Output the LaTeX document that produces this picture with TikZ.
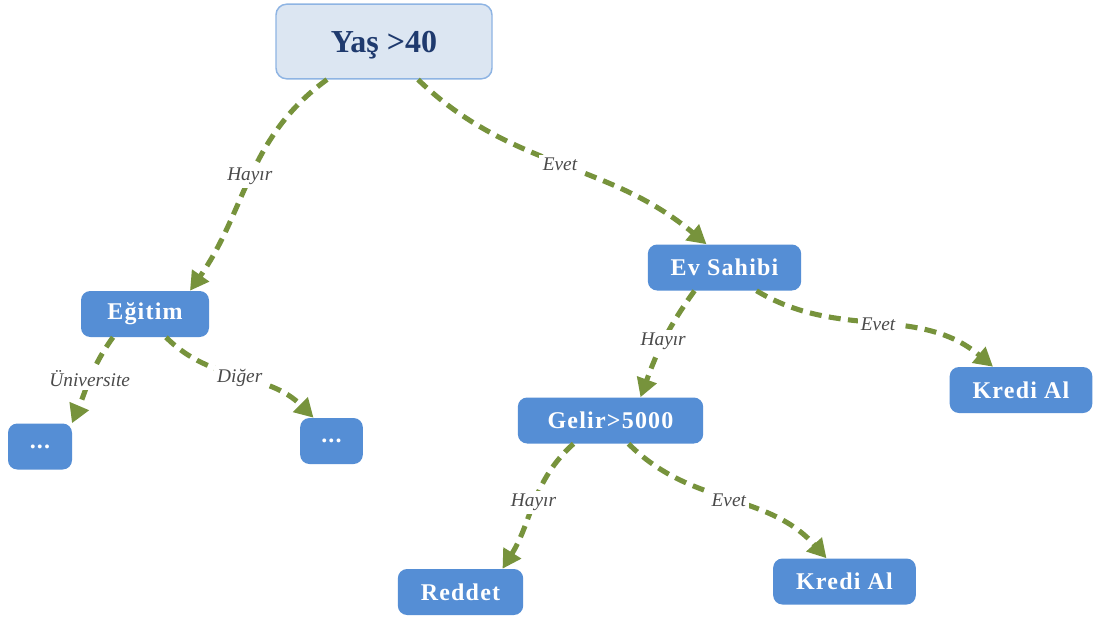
\documentclass[tikz,border=0pt]{standalone}
\usepackage{fontspec}
\setmainfont{Liberation Serif}
\usepackage{xcolor}
\usetikzlibrary{arrows.meta,calc}
\definecolor{DTBlue}{HTML}{558ED5}
\definecolor{DTRootFill}{HTML}{DCE6F2}
\definecolor{DTRootLine}{HTML}{8EB4E3}
\definecolor{DTRootText}{HTML}{1F3A6E}
\definecolor{DTGreen}{HTML}{77933C}
\definecolor{DTLabel}{HTML}{4A4A4A}
\tikzset{
  leaf/.style={fill=DTBlue,draw=none,rounded corners=7pt,minimum height=34.5pt,inner sep=0pt,
    text=white,font=\fontsize{18}{21}\selectfont\bfseries\addfontfeature{LetterSpace=5}},
  edge/.style={draw=DTGreen,line width=3.8pt,dash pattern=on 9pt off 5.5pt,
    -{Triangle[length=14pt,width=15pt]}},
  lbl/.style={fill=white,inner sep=2.5pt,text=DTLabel,font=\fontsize{14.5}{16}\selectfont\itshape}
}

\begin{document}
\begin{tikzpicture}[x=0.75pt,y=-0.75pt]
\path[use as bounding box] (0,0) rectangle (1095,621);
\fill[white] (0,0) rectangle (1095,621);
\node[fill=DTRootFill,draw=DTRootLine,line width=1.1pt,rounded corners=8pt,minimum width=162pt,minimum height=56pt,
  text depth=0pt,text=DTRootText,font=\fontsize{24}{28}\selectfont\bfseries] (root) at (384,41.5) {Yaş >40};
\node[leaf,minimum width=96pt] (egitim) at (145,314) {Eğitim};
\node[leaf,minimum width=48pt] (dotsa) at (40,446.5) {...};
\node[leaf,minimum width=47pt] (dotsb) at (331.5,441) {...};
\node[leaf,minimum width=115pt] (evsahibi) at (724.5,267.5) {Ev Sahibi};
\node[leaf,minimum width=107pt] (kredia) at (1021,390) {Kredi Al};
\node[leaf,minimum width=139pt] (gelir) at (610.5,420.5) {Gelir>5000};
\node[leaf,minimum width=94pt] (reddet) at (460.5,592) {Reddet};
\node[leaf,minimum width=107pt] (kredib) at (844.5,581.5) {Kredi Al};
\path[edge] ($(root.south)+(-57,0)$) to[out=216,in=55] node[lbl] {Hayır} ($(egitim.north)+(45,0)$);
\path[edge] ($(root.south)+(34,0)$) to[out=-44,in=140] node[lbl] {Evet} ($(evsahibi.north)+(-18,0)$);
\path[edge] ($(egitim.south)+(-32,0)$) to[out=234,in=67] node[lbl] {Üniversite} ($(dotsa.north)+(32,0)$);
\path[edge] ($(egitim.south)+(21,0)$) to[out=-45,in=135] node[lbl] {Diğer} ($(dotsb.north)+(-18,0)$);
\path[edge] ($(evsahibi.south)+(-30,0)$) to[out=234,in=70] node[lbl] {Hayır} ($(gelir.north)+(30,0)$);
\path[edge] ($(evsahibi.south)+(32,0)$) to[out=-31,in=140] node[lbl] {Evet} ($(kredia.north)+(-28,0)$);
\path[edge] ($(gelir.south)+(-37,0)$) to[out=222,in=58] node[lbl] {Hayır} ($(reddet.north)+(42,0)$);
\path[edge] ($(gelir.south)+(18,0)$) to[out=-45,in=132] node[lbl] {Evet} ($(kredib.north)+(-18,0)$);
\end{tikzpicture}
\end{document}
